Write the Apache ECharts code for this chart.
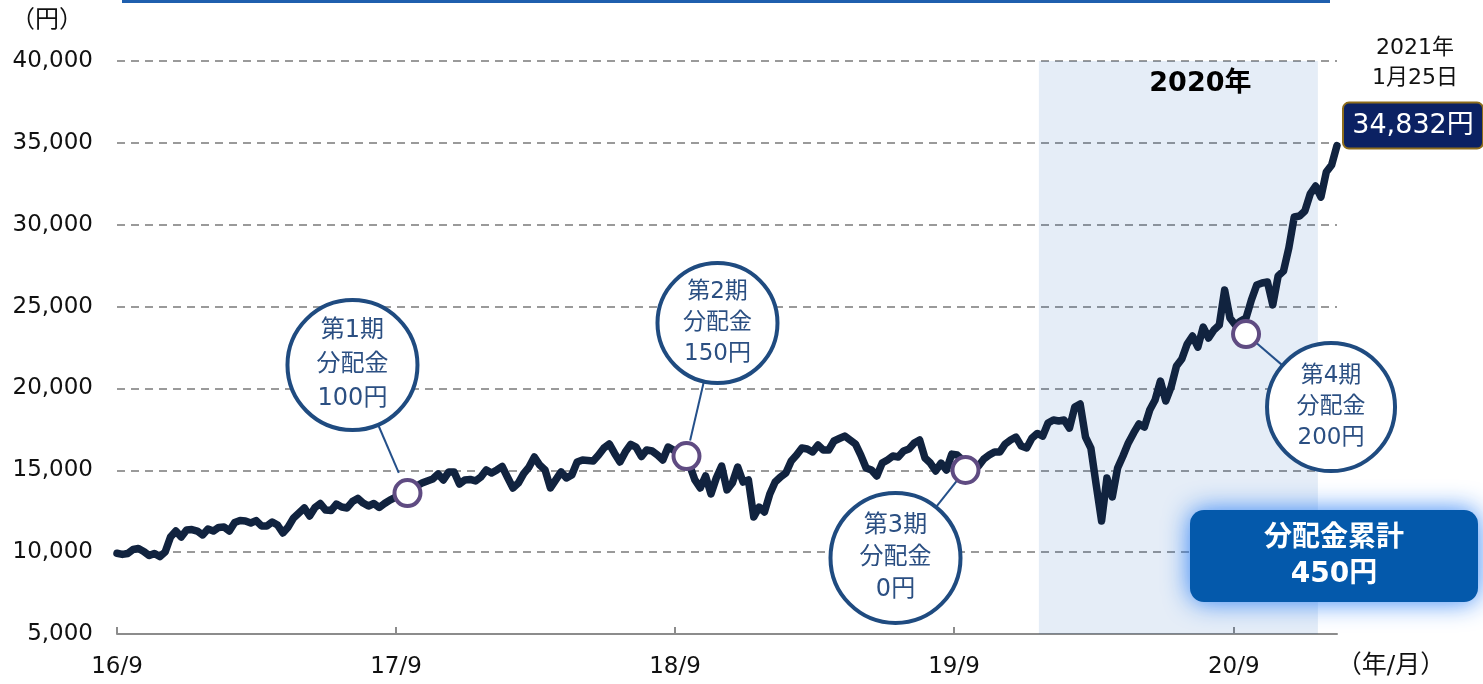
<!DOCTYPE html>
<html>
<head>
<meta charset="utf-8">
<script src="https://cdn.jsdelivr.net/npm/echarts@6/dist/echarts.min.js"></script>
<style>
html,body{margin:0;padding:0;background:#fff;}
#chart{width:1483px;height:684px;}
</style>
</head>
<body>
<div id="chart"></div>
<script>
// ---- data ----
const startDate = '2016-09-12';           // first weekly observation
const endDate = '2021-01-25';             // last observation (latest NAV)
const weeklyNav = [
9930,9860,9920,10160,10220,10040,9790,9920,9730,10010,
10920,11290,10920,11350,11380,11290,11050,11410,11290,11510,
11540,11290,11810,11930,11900,11780,11930,11600,11600,11840,
11660,11170,11540,12090,12390,12700,12210,12730,12970,12570,
12540,12940,12760,12700,13090,13280,13000,12820,12970,12730,
12970,13180,13340,13430,13550,13610,14040,14220,14350,14470,
14770,14410,14900,14900,14160,14410,14440,14350,14590,15020,
14830,15020,15230,14560,13920,14220,14800,15200,15810,15320,
15020,13920,14410,14900,14530,14710,15510,15630,15600,15570,
15930,16360,16610,16030,15510,16120,16580,16420,15840,16240,
16180,15930,15630,16420,16240,15990,15870,15320,14410,13920,
14650,13550,14530,15260,13800,14220,15200,14280,14410,12150,
12750,12450,13550,14280,14590,14830,15570,15930,16360,16300,
16120,16540,16240,16240,16790,16940,17090,16850,16610,15930,
15140,15020,14650,15440,15630,15870,15810,16180,16300,16670,
16850,15750,15440,14960,15440,15020,15990,15930,15630,15320,
15140,15260,15690,15930,16120,16120,16610,16850,17030,16480,
16360,16970,17250,17090,17890,18070,18010,18070,17580,18870,
19050,17030,16360,14100,11900,14530,13370,15140,15870,16670,
17280,17830,17640,18680,19290,20450,19230,20090,21370,21800,
22710,23200,22530,23750,23080,23570,23870,26010,24300,23870,
24120,24300,25400,26320,26440,26500,25100,26870,27170,28580,
30470,30530,30840,31880,32360,31690,33220,33650,34832
];
const latestValue = 34832;
const latestDateLabel = ['2021年', '1月25日'];
const latestValueLabel = '34,832円';

const distDates = ['2017-09-27', '2018-09-27', '2019-09-27', '2020-09-28'];
const distValues = [13610, 15870, 15020, 23320];
const distTexts = [
  ['第1期', '分配金', '100円'],
  ['第2期', '分配金', '150円'],
  ['第3期', '分配金', '0円'],
  ['第4期', '分配金', '200円']
];
const totalText = ['分配金累計', '450円'];

const xTickDates = ['2016-09-12', '2017-09-12', '2018-09-12', '2019-09-12', '2020-09-12'];
const xTickLabels = ['16/9', '17/9', '18/9', '19/9', '20/9'];
const yMin = 5000, yMax = 40000, yStep = 5000;
const highlightRange = ['2020-01-01', '2020-12-31'];
const highlightLabel = '2020年';
const yUnit = '（円）';
const xUnit = '（年/月）';

// ---- helpers ----
const ts = s => Date.parse(s + 'T00:00:00Z');
const DAY = 86400000;
const t0 = ts(startDate);
const navData = weeklyNav.map((v, i) => [t0 + i * 7 * DAY, v]);
const xTicks = xTickDates.map(ts);
const FONT = "'DejaVu Sans','Noto Sans CJK JP',sans-serif";

const chart = echarts.init(document.getElementById('chart'), null, {renderer: 'canvas'});

const option = {
  animation: false,
  backgroundColor: '#fff',
  grid: {left: 117, right: 146, top: 61, bottom: 50, containLabel: false},
  xAxis: {
    type: 'value',
    min: t0,
    max: ts(endDate),
    axisLine: {show: true, lineStyle: {color: '#8c8c8c', width: 2}},
    axisTick: {show: true, inside: true, length: 7, customValues: xTicks, lineStyle: {color: '#8c8c8c', width: 2}},
    axisLabel: {
      show: true, customValues: xTicks, margin: 22,
      fontFamily: FONT, fontSize: 23, color: '#111',
      formatter: v => { const k = xTicks.indexOf(v); return k >= 0 ? xTickLabels[k] : ''; }
    },
    splitLine: {show: false}
  },
  yAxis: {
    type: 'value',
    min: yMin, max: yMax, interval: yStep,
    axisLine: {show: false},
    axisTick: {show: false},
    axisLabel: {margin: 24, fontFamily: FONT, fontSize: 23, color: '#111',
      formatter: v => v.toLocaleString('en-US')},
    splitLine: {show: true, lineStyle: {color: '#9a9a9a', width: 2, type: [8, 6]}}
  },
  series: [
    {
      type: 'line',
      data: navData,
      showSymbol: false,
      z: 3,
      lineStyle: {color: '#11233f', width: 7.5, join: 'round', cap: 'round'},
      markArea: {
        silent: true,
        itemStyle: {color: 'rgba(0,80,180,0.10)'},
        label: {show: true, position: 'insideTop', offset: [22, 4],
          fontFamily: FONT, fontSize: 27, fontWeight: 'bold', color: '#000'},
        data: [[{xAxis: ts(highlightRange[0]), name: highlightLabel}, {xAxis: ts(highlightRange[1])}]]
      }
    },
    {
      type: 'scatter',
      data: distDates.map((d, i) => [ts(d), distValues[i]]),
      symbol: 'circle',
      symbolSize: 26,
      z: 6,
      itemStyle: {color: '#fff', borderColor: '#5f4b82', borderWidth: 4, opacity: 1}
    }
  ]
};
chart.setOption(option);

// ---- annotations positioned from data points ----
const bubbleLayout = [
  {dx: -55, dy: -128, r: 65, fs: 24, lh: 34, gap: 22},
  {dx: 31, dy: -133, r: 60, fs: 23, lh: 31, gap: 16},
  {dx: -70, dy: 88, r: 65, fs: 24, lh: 32, gap: 13},
  {dx: 85, dy: 73, r: 64, fs: 23, lh: 31, gap: 13}
];
const g = [];
distDates.forEach((d, i) => {
  const p = chart.convertToPixel({gridIndex: 0}, [ts(d), distValues[i]]);
  const L = bubbleLayout[i];
  const cx = p[0] + L.dx, cy = p[1] + L.dy;
  const len = Math.hypot(L.dx, L.dy);
  const ux = -L.dx / len, uy = -L.dy / len;
  g.push({type: 'line', z: 4, silent: true,
    shape: {x1: cx + ux * L.r, y1: cy + uy * L.r, x2: p[0] - ux * L.gap, y2: p[1] - uy * L.gap},
    style: {stroke: '#24508a', lineWidth: 2}});
  g.push({type: 'circle', z: 7, silent: true,
    shape: {cx: cx, cy: cy, r: L.r},
    style: {fill: '#fff', stroke: '#1f4b80', lineWidth: 4}});
  g.push({type: 'text', z: 8, silent: true,
    style: {x: cx, y: cy, text: distTexts[i].join('\n'), align: 'center', verticalAlign: 'middle',
      font: L.fs + 'px ' + FONT, lineHeight: L.lh, fill: '#2b4f82'}});
});

// latest value label
const lp = chart.convertToPixel({gridIndex: 0}, [ts(endDate), latestValue]);
g.push({type: 'rect', z: 8, silent: true,
  shape: {x: lp[0] + 6, y: lp[1] - 43, width: 140, height: 46, r: 6},
  style: {fill: '#0b2163', stroke: '#8d6d1c', lineWidth: 2}});
g.push({type: 'text', z: 9, silent: true,
  style: {x: lp[0] + 76, y: lp[1] - 20, text: latestValueLabel, align: 'center', verticalAlign: 'middle',
    font: '27px ' + FONT, fill: '#fff'}});
g.push({type: 'text', z: 9, silent: true,
  style: {x: lp[0] + 78, y: lp[1] - 82, text: latestDateLabel.join('\n'), align: 'center', verticalAlign: 'middle',
    font: '22px ' + FONT, lineHeight: 30, fill: '#111'}});

// cumulative distribution box
g.push({type: 'rect', z: 10, silent: true,
  shape: {x: 1190, y: 510, width: 288, height: 92, r: 14},
  style: {fill: '#0459ab', shadowBlur: 26, shadowColor: 'rgba(40,125,245,0.95)'}});
g.push({type: 'text', z: 11, silent: true,
  style: {x: 1334, y: 557, text: totalText.join('\n'), align: 'center', verticalAlign: 'middle',
    font: 'bold 28px ' + FONT, lineHeight: 36, fill: '#fff'}});

// units and top rule
g.push({type: 'text', z: 9, silent: true,
  style: {x: 47, y: 21, text: yUnit, align: 'center', verticalAlign: 'middle', font: '24px ' + FONT, fill: '#111'}});
g.push({type: 'text', z: 9, silent: true,
  style: {x: 1391, y: 666, text: xUnit, align: 'center', verticalAlign: 'middle', font: '25px ' + FONT, fill: '#111'}});
g.push({type: 'rect', z: 9, silent: true,
  shape: {x: 122, y: 0, width: 1208, height: 3}, style: {fill: '#1f5fae'}});

chart.setOption({graphic: g});
</script>
</body>
</html>
